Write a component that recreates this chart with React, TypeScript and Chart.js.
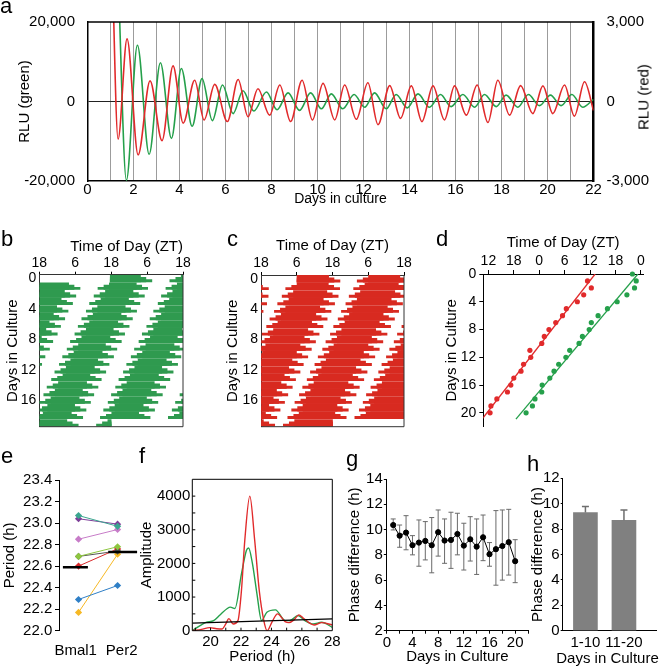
import React, { useEffect, useRef } from "react";
import { Chart, registerables } from "chart.js";

Chart.register(...registerables);

const FONT = "'Liberation Sans', Arial, Helvetica, sans-serif";
Chart.defaults.font.family = FONT;
Chart.defaults.font.size = 15;
Chart.defaults.color = "#000";

const GREEN = "#25a04b";
const RED = "#e12a2b";
const ACT_GREEN = "#2f9a4f";
const ACT_RED = "#d82a20";

// ---------------- panel a : bioluminescence traces ----------------
const aGreenDays = [1.33, 1.69, 2.17, 2.68, 3.17, 3.65, 4.08, 4.55, 4.98, 5.43, 5.87, 6.33, 6.76, 7.23, 7.78, 8.24, 8.72, 9.22, 9.7, 10.17, 10.6, 11.1, 11.59, 12.05, 12.48, 12.99, 13.42, 13.9, 14.37, 14.87, 15.35, 15.81, 16.32, 16.83, 17.26, 17.77, 18.2, 18.71, 19.17, 19.65, 20.13, 20.59, 21.06, 21.53, 22];
const aGreenRLU = [32000, -19800, 14160, -13280, 9760, -9280, 8320, -6240, 5760, -4800, 4160, -3040, 2720, -2400, 2400, -2080, 2160, -2240, 2160, -1840, 1920, -1840, 1760, -1440, 2160, -1840, 1760, -1600, 1920, -1440, 1760, -1280, 1760, -1440, 1760, -1280, 1600, -1440, 1760, -1040, 1600, -1040, 1760, -1440, 560];
const aRedDays = [1.05, 1.33, 1.72, 2.2, 2.72, 3.24, 3.72, 4.16, 4.66, 5.07, 5.53, 6.08, 6.55, 6.98, 7.41, 7.92, 8.36, 8.83, 9.33, 9.78, 10.24, 10.75, 11.18, 11.69, 12.19, 12.63, 13.14, 13.61, 14.08, 14.54, 15.02, 15.52, 15.96, 16.47, 16.94, 17.41, 17.84, 18.35, 18.83, 19.36, 19.8, 20.23, 20.74, 21.17, 21.61, 22];
const aRedRLU = [6000, -1416, 2364, -2016, 780, -1476, 1344, -816, 804, -696, 648, -756, 828, -576, 480, -516, 624, -756, 804, -696, 684, -696, 624, -672, 708, -876, 600, -636, 588, -756, 588, -696, 588, -516, 624, -792, 804, -516, 600, -456, 588, -456, 624, -552, 744, -336];
const aDayTicks = [0, 1, 2, 3, 4, 5, 6, 7, 8, 9, 10, 11, 12, 13, 14, 15, 16, 17, 18, 19, 20, 21, 22];
const aGreenTicks = [-20000, 0, 20000];
const aRedTicks = [-3000, 0, 3000];

// ---------------- panels b, c : double-plotted actograms (hours since first ZT18) ----------------
const actRowCount = 20;
// staircase tiers of the bar edges: [extra hours each side, fraction of row height]
const actTiers = [[0, 1], [1.8, 0.66], [3.8, 0.33]];
const actHourTicks = [0, 12, 24, 36, 48];
const actHourLabels = ["18", "6", "18", "6", "18"];
const actDayTicks = [0, 4, 8, 12, 16];
const bGreenOnStart = [23.7, 47.4, 70.1, 92.6, 115.5, 138.0, 160.8, 183.7, 206.2, 229.1, 251.6, 274.5, 297.0, 319.9, 342.4, 365.3, 387.9, 410.8, 433.3, 456.2, 478.9];
const bGreenOnEnd = [33.8, 56.4, 79.3, 101.8, 124.7, 147.3, 170.2, 192.7, 215.6, 238.1, 261.0, 283.5, 306.4, 328.9, 351.8, 374.4, 397.3, 419.8, 442.7, 465.2, 480.0];
const cRedOnStart = [12.1, 36.1, 58.9, 81.4, 104.3, 126.8, 149.7, 172.2, 195.1, 217.6, 240.5, 263.0, 285.9, 308.4, 331.3, 353.8, 376.7, 399.2, 422.1, 444.8, 467.3];
const cRedOnEnd = [22.7, 46.6, 70.1, 92.9, 115.7, 138.4, 161.0, 183.7, 206.5, 229.1, 251.9, 274.4, 297.3, 319.8, 342.7, 365.2, 388.1, 410.6, 433.5, 456.8, 480.0];
const bRecording = [23.7, 480];
const cRecording = [12.1, 480];

// ---------------- panel d : peak phases ----------------
const dRedDays = [1, 2, 3, 4, 5, 6, 7, 8, 9, 10, 11, 12, 13, 14, 15, 16, 17, 18, 19, 20];
const dRedZT = [35.4, 36.3, 34.5, 33.0, 30.4, 29.5, 27.9, 26.3, 25.2, 24.6, 21.8, 22.0, 20.3, 19.7, 18.0, 17.3, 16.5, 14.0, 12.6, 12.4];
const dGreenDays = [0, 1, 2, 3, 4, 5, 6, 7, 8, 9, 10, 11, 12, 13, 14, 15, 16, 17, 18, 19, 20];
const dGreenZT = [46.0, 46.9, 46.5, 44.7, 42.4, 40.1, 37.9, 36.3, 35.8, 34.2, 33.4, 31.2, 30.3, 28.6, 27.5, 26.5, 24.7, 24.6, 23.0, 22.4, 20.9];
const dRedFitDays = [0, 20.9];
const dRedFitZT = [37.2, 10.5];
const dGreenFitDays = [0, 20.9];
const dGreenFitZT = [47.3, 18.5];
const dZTTicks = [12, 18, 24, 30, 36, 42, 48];
const dDayTicks = [0, 4, 8, 12, 16, 20];

// ---------------- panel e : periods ----------------
const eGenes = ["Bmal1", "Per2"];
const eBmal1 = [23.07, 23.04, 22.85, 22.69, 22.69, 22.6, 22.29, 22.17];
const ePer2 = [22.97, 22.99, 22.94, 22.78, 22.74, 22.76, 22.42, 22.71];
const eColors = ["#3ba58f", "#7d3f98", "#c77cc8", "#8dc63f", "#555555", "#d8282a", "#2f7fc6", "#f6b824"];
const eMeans = [22.59, 22.73];
const eMeanBarFrom = [0.6, 1.76];
const eMeanBarTo = [1.24, 2.5];
const ePeriodTicks = [22.0, 22.2, 22.4, 22.6, 22.8, 23.0, 23.2, 23.4];

// ---------------- panel f : periodogram ----------------
const fRedPeriod = [18.8, 19.4, 19.94, 20.4, 20.75, 21.0, 21.2, 21.49, 21.8, 22.03, 22.25, 22.58, 22.9, 23.2, 23.5, 23.72, 24.05, 24.4, 24.9, 25.15, 25.5, 25.8, 26.1, 26.8, 27.3, 28];
const fRedAmp = [0, 40, 90, 60, 50, 200, 358, 200, 300, 1194, 2687, 4000, 2687, 1194, 299, 0, 270, 500, 270, 239, 330, 470, 370, 170, 240, 170];
const fGreenPeriod = [18.8, 19.7, 20.2, 20.6, 21.1, 21.3, 21.6, 22.03, 22.36, 22.5, 22.75, 23.05, 23.35, 23.7, 24.26, 24.9, 25.2, 25.75, 26.2, 26.75, 27.3, 28];
const fGreenAmp = [0, 250, 300, 460, 660, 700, 660, 1690, 2390, 2460, 2000, 1090, 300, 550, 620, 300, 300, 450, 300, 200, 250, 100];
const fSigPeriod = [18.8, 28];
const fSigAmp = [225, 350];
const fPeriodTicks = [20, 22, 24, 26, 28];
const fAmpTicks = [0, 1000, 2000, 3000, 4000];
const fMinorPeriod = [19, 20, 21, 22, 23, 24, 25, 26, 27];
const fMinorAmp = [500, 1000, 1500, 2000, 2500, 3000, 3500, 4000];

// ---------------- panel g : phase difference per day ----------------
const gDays = [1, 2, 3, 4, 5, 6, 7, 8, 9, 10, 11, 12, 13, 14, 15, 16, 17, 18, 19, 20];
const gMean = [10.36, 9.52, 9.76, 8.76, 8.97, 9.1, 8.76, 9.79, 9.13, 9.18, 9.65, 8.73, 9.23, 8.65, 9.39, 8.05, 8.45, 8.7, 9.0, 7.5];
const gHi = [10.84, 10.36, 11.1, 9.52, 10.76, 10.63, 10.95, 11.55, 10.84, 11.37, 11.29, 10.5, 11.02, 10.84, 11.15, 8.97, 11.5, 11.55, 11.6, 9.2];
const gLo = [9.97, 8.6, 8.4, 8.0, 7.1, 7.6, 6.58, 7.9, 7.33, 6.93, 8.0, 6.8, 7.51, 6.45, 7.54, 7.1, 5.6, 6.0, 6.4, 5.8];
const gDayTicks = [0, 2, 4, 6, 8, 10, 12, 14, 16, 18, 20, 22];
const gPhaseTicks = [2, 4, 6, 8, 10, 12, 14];

// ---------------- panel h : phase difference means ----------------
const hGroups = ["1-10", "11-20"];
const hMean = [9.3, 8.7];
const hErrTop = [9.77, 9.5];
const hPhaseTicks = [0, 2, 4, 6, 8, 10, 12];

// ---------------- helpers ----------------
const fitW = (w: number) => (s: any) => { s.width = w; };
const fitH = (h: number) => (s: any) => { s.height = h; };
const setTicks = (vals: number[]) => (s: any) => { s.ticks = vals.map((v) => ({ value: v })); };
const noPlugins = { legend: { display: false }, tooltip: { enabled: false } };

const framePlugin = {
  id: "frame",
  afterDatasetsDraw(chart: any, _a: any, o: any) {
    if (!o) return;
    const { left, right, top, bottom } = chart.chartArea;
    const ctx = chart.ctx;
    ctx.save();
    ctx.strokeStyle = o.color || "#000";
    const seg = (w: number, x1: number, y1: number, x2: number, y2: number) => {
      if (!w) return;
      ctx.lineWidth = w;
      ctx.beginPath();
      ctx.moveTo(x1, y1);
      ctx.lineTo(x2, y2);
      ctx.stroke();
    };
    seg(o.top, left, top, right, top);
    seg(o.right, right, top, right, bottom);
    seg(o.bottom, left, bottom, right, bottom);
    seg(o.left, left, top, left, bottom);
    ctx.restore();
  },
};

function drawErr(chart: any, o: any) {
  const ds = chart.data.datasets[0];
  if (!ds || !ds.errHi) return;
  const meta = chart.getDatasetMeta(0);
  const ys = chart.scales.y;
  const ctx = chart.ctx;
  ctx.save();
  ctx.strokeStyle = o.color || "#666";
  ctx.lineWidth = o.width || 1;
  meta.data.forEach((el: any, i: number) => {
    const x = el.x;
    const top = ys.getPixelForValue(ds.errHi[i]);
    const bot = ds.errLo ? ys.getPixelForValue(ds.errLo[i]) : el.y;
    const c = (o.cap || 5) / 2;
    ctx.beginPath();
    ctx.moveTo(x, bot);
    ctx.lineTo(x, top);
    ctx.moveTo(x - c, top);
    ctx.lineTo(x + c, top);
    if (ds.errLo) {
      ctx.moveTo(x - c, bot);
      ctx.lineTo(x + c, bot);
    }
    ctx.stroke();
  });
  ctx.restore();
}

const errPlugin = {
  id: "errbars",
  beforeDatasetsDraw(chart: any, _a: any, o: any) {
    if (o && o.under) drawErr(chart, o);
  },
  afterDatasetsDraw(chart: any, _a: any, o: any) {
    if (o && !o.under) drawErr(chart, o);
  },
};

const innerTicksPlugin = {
  id: "innerTicks",
  afterDraw(chart: any) {
    const { ctx, chartArea: ca, scales } = chart;
    ctx.save();
    ctx.strokeStyle = "#000";
    ctx.lineWidth = 1;
    ctx.beginPath();
    fMinorPeriod.forEach((v) => {
      const x = scales.x.getPixelForValue(v);
      ctx.moveTo(x, ca.bottom);
      ctx.lineTo(x, ca.bottom - 3);
    });
    fMinorAmp.forEach((v) => {
      const y = scales.y.getPixelForValue(v);
      ctx.moveTo(ca.left, y);
      ctx.lineTo(ca.left + 3, y);
    });
    ctx.stroke();
    ctx.restore();
  },
};

// clips each "high" interval (absolute hours) into the double-plotted rows
function buildActogram(starts: number[], ends: number[], rec: number[], widen: number, yShift: number) {
  const rows: any[] = [];
  for (let r = 0; r < actRowCount; r++) {
    const lo = 24 * r;
    const hi = lo + 48;
    starts.forEach((s, i) => {
      const a = Math.max(s - widen, lo, rec[0]);
      const b = Math.min(ends[i] + widen, hi, rec[1]);
      if (b > a) rows.push({ x: [a - lo, b - lo], y: r + yShift });
    });
  }
  return rows;
}

function actDatasets(starts: number[], ends: number[], rec: number[], color: string) {
  const rowPx = 6.7;
  const rowUnits = 0.88;
  return actTiers.map(([widen, frac]) => ({
    data: buildActogram(starts, ends, rec, widen, (rowUnits * (1 - frac)) / 2),
    backgroundColor: color,
    borderWidth: 0,
    borderSkipped: false,
    barThickness: rowPx * frac,
    grouped: false,
  }));
}

const pts = (xs: number[], ys: number[]) => xs.map((x, i) => ({ x, y: ys[i] }));
const fmt = (v: any) => Number(v).toLocaleString("en-US");

// ---------------- configs ----------------
function configA(): any {
  return {
    type: "line",
    data: {
      datasets: [
        { data: pts(aRedDays, aRedRLU), yAxisID: "y2", borderColor: RED, borderWidth: 1.6, pointRadius: 0, cubicInterpolationMode: "monotone" },
        { data: pts(aGreenDays, aGreenRLU), yAxisID: "y", borderColor: GREEN, borderWidth: 1.6, pointRadius: 0, cubicInterpolationMode: "monotone" },
      ],
    },
    options: {
      responsive: false,
      animation: false,
      layout: { padding: { top: 14.3, left: 0, right: 0, bottom: 0 } },
      plugins: { ...noPlugins, frame: { top: 1.5, color: "#000" } },
      scales: {
        x: {
          type: "linear", position: "bottom", min: 0, max: 22, afterBuildTicks: setTicks(aDayTicks), afterFit: fitH(34),
          ticks: { autoSkip: false, maxRotation: 0, padding: 0, callback: (v: number) => (v % 2 === 0 ? String(v) : "") },
          grid: { drawTicks: false, lineWidth: 1, color: (c: any) => { const v = c.tick ? c.tick.value : -1; return v > 0 && v < 22 ? "#9c9c9c" : "rgba(0,0,0,0)"; } },
          border: { color: "#000", width: 1.5 },
          title: { display: true, text: "Days in culture", font: { size: 14 }, padding: { top: 0, bottom: 7 } },
        },
        y: {
          position: "left", min: -20000, max: 20000, afterBuildTicks: setTicks(aGreenTicks), afterFit: fitW(87.5),
          ticks: { padding: 12.5, callback: fmt },
          grid: { drawTicks: false, color: (c: any) => (c.tick && c.tick.value === 0 ? "#222" : "rgba(0,0,0,0)") },
          border: { color: "#000", width: 1.5 },
          title: { display: true, text: "RLU (green)", padding: { top: 16, bottom: 0 } },
        },
        y2: {
          position: "right", min: -3000, max: 3000, afterBuildTicks: setTicks(aRedTicks), afterFit: fitW(66.5),
          ticks: { padding: 13, callback: fmt },
          grid: { display: false, drawTicks: false },
          border: { color: "#000", width: 2.5 },
        },
      },
    },
    plugins: [framePlugin],
  };
}

function configAct(datasets: any[], yWidth: number, xHeight: number, padRight: number, xTitlePad: number, yTitlePad: number, align: string): any {
  return {
    type: "bar",
    data: { datasets },
    options: {
      indexAxis: "y",
      responsive: false,
      animation: false,
      layout: { padding: { top: 0, left: 0, right: padRight, bottom: 13.3 } },
      plugins: { ...noPlugins, frame: { right: 1, bottom: 1, color: "#333" } },
      scales: {
        x: {
          type: "linear", position: "top", min: 0, max: 48, offset: false, afterBuildTicks: setTicks(actHourTicks), afterFit: fitH(xHeight),
          ticks: { autoSkip: false, maxRotation: 0, padding: 0, font: { size: 14 }, callback: (v: number) => actHourLabels[actHourTicks.indexOf(v)] },
          grid: { offset: false, drawOnChartArea: false, tickLength: 3, color: "#000" },
          border: { color: "#333", width: 1 },
          title: { display: true, text: "Time of Day (ZT)", align, padding: { top: xTitlePad, bottom: 0 } },
        },
        y: {
          type: "linear", reverse: true, min: -0.5, max: 19.5, offset: false, afterBuildTicks: setTicks(actDayTicks), afterFit: fitW(yWidth),
          ticks: { autoSkip: false, padding: 3, font: { size: 14 } },
          grid: { offset: false, drawOnChartArea: false, drawTicks: false },
          border: { color: "#333", width: 1 },
          title: { display: true, text: "Days in Culture", padding: { top: yTitlePad, bottom: 0 } },
        },
      },
    },
    plugins: [framePlugin],
  };
}

function configD(): any {
  return {
    type: "scatter",
    data: {
      datasets: [
        { data: pts(dRedZT, dRedDays), pointRadius: 2.6, backgroundColor: RED, borderWidth: 0, clip: 6 },
        { data: pts(dGreenZT, dGreenDays), pointRadius: 2.6, backgroundColor: GREEN, borderWidth: 0, clip: 6 },
        { data: pts(dRedFitZT, dRedFitDays), showLine: true, pointRadius: 0, borderColor: RED, borderWidth: 1.3 },
        { data: pts(dGreenFitZT, dGreenFitDays), showLine: true, pointRadius: 0, borderColor: GREEN, borderWidth: 1.3 },
      ],
    },
    options: {
      responsive: false,
      animation: false,
      layout: { padding: { top: 0, left: 0, right: 17, bottom: 13.3 } },
      plugins: { ...noPlugins },
      scales: {
        x: {
          type: "linear", position: "top", min: 10.8, max: 48.5, afterBuildTicks: setTicks(dZTTicks), afterFit: fitH(49),
          ticks: { autoSkip: false, maxRotation: 0, padding: 0, font: { size: 14 }, callback: (v: number) => String(((v % 24) + 24) % 24) },
          grid: { drawOnChartArea: false, tickLength: 4, color: "#000" },
          border: { color: "#000", width: 1 },
          title: { display: true, text: "Time of Day (ZT)", padding: { top: 9.3, bottom: 0 } },
        },
        y: {
          type: "linear", reverse: true, min: 0, max: 22, afterBuildTicks: setTicks(dDayTicks), afterFit: fitW(63.3),
          ticks: { autoSkip: false, padding: 3, font: { size: 14 } },
          grid: { drawOnChartArea: false, tickLength: 4, color: "#000" },
          border: { color: "#000", width: 1 },
          title: { display: true, text: "Days in Culture", padding: { top: 22.7, bottom: 0 } },
        },
      },
    },
  };
}

function configE(): any {
  const sampleSets = eColors.map((c, i) => ({
    data: [{ x: 1, y: eBmal1[i] }, { x: 2, y: ePer2[i] }],
    borderColor: c, backgroundColor: c, borderWidth: 1, pointStyle: "rectRot", pointRadius: 3.6, pointBorderWidth: 0,
  }));
  const meanSets = eMeans.map((m, i) => ({
    data: [{ x: eMeanBarFrom[i], y: m }, { x: eMeanBarTo[i], y: m }],
    borderColor: "#000", borderWidth: 2.5, pointRadius: 0,
  }));
  return {
    type: "line",
    data: { datasets: [...meanSets, ...sampleSets] },
    options: {
      responsive: false,
      animation: false,
      layout: { padding: { top: 25, left: 0, right: 24, bottom: 0 } },
      plugins: { ...noPlugins },
      scales: {
        x: {
          type: "linear", display: false, min: 0.5, max: 2.6,
        },
        xLabels: {
          type: "linear", position: "bottom", min: 0.637, max: 2.42, afterBuildTicks: setTicks([1, 2]), afterFit: fitH(35.3),
          ticks: { autoSkip: false, maxRotation: 0, padding: 11, callback: (v: number) => eGenes[v - 1] },
          grid: { display: false, drawTicks: false },
          border: { display: false },
        },
        y: {
          min: 22, max: 23.4, afterBuildTicks: setTicks(ePeriodTicks), afterFit: fitW(59),
          ticks: { autoSkip: false, padding: 2.7, callback: (v: number) => Number(v).toFixed(1) },
          grid: { drawOnChartArea: false, tickLength: 4, color: "#000" },
          border: { color: "#000", width: 1 },
          title: { display: true, text: "Period (h)", padding: { top: 1, bottom: 0 } },
        },
      },
    },
  };
}

function configF(): any {
  return {
    type: "line",
    data: {
      datasets: [
        { data: pts(fSigPeriod, fSigAmp), borderColor: "#000", borderWidth: 1.3, pointRadius: 0 },
        { data: pts(fRedPeriod, fRedAmp), borderColor: RED, borderWidth: 1.4, pointRadius: 0, cubicInterpolationMode: "monotone" },
        { data: pts(fGreenPeriod, fGreenAmp), borderColor: GREEN, borderWidth: 1.4, pointRadius: 0, cubicInterpolationMode: "monotone" },
      ],
    },
    options: {
      responsive: false,
      animation: false,
      layout: { padding: { top: 24.3, left: 0, right: 12.7, bottom: 0 } },
      plugins: { ...noPlugins, frame: { top: 1, right: 1, bottom: 1, left: 1, color: "#000" } },
      scales: {
        x: {
          type: "linear", min: 18.8, max: 28, afterBuildTicks: setTicks(fPeriodTicks), afterFit: fitH(35.3),
          ticks: { autoSkip: false, maxRotation: 0, padding: 2 },
          grid: { display: false, drawTicks: false },
          border: { display: false },
          title: { display: true, text: "Period (h)", padding: { top: 0, bottom: 0 } },
        },
        y: {
          min: 0, max: 4500, afterBuildTicks: setTicks(fAmpTicks), afterFit: fitW(57.3),
          ticks: { autoSkip: false, padding: 2, callback: (v: number) => String(v) },
          grid: { display: false, drawTicks: false },
          border: { display: false },
          title: { display: true, text: "Amplitude", padding: { top: 2.7, bottom: 0 } },
        },
      },
    },
    plugins: [framePlugin, innerTicksPlugin],
  };
}

function configG(): any {
  return {
    type: "line",
    data: {
      datasets: [
        { data: pts(gDays, gMean), errHi: gHi, errLo: gLo, borderColor: "#000", backgroundColor: "#000", borderWidth: 1, pointRadius: 2.6 },
      ],
    },
    options: {
      responsive: false,
      animation: false,
      layout: { padding: { top: 24, left: 0, right: 7, bottom: 0 } },
      plugins: { ...noPlugins, errbars: { under: true, color: "#6a6a6a", width: 1, cap: 5 } },
      scales: {
        x: {
          type: "linear", min: 0, max: 22, afterBuildTicks: setTicks(gDayTicks), afterFit: fitH(35.3),
          ticks: { autoSkip: false, maxRotation: 0, padding: 0, callback: (v: number) => (v % 4 === 0 && v <= 20 ? String(v) : "") },
          grid: { drawOnChartArea: false, tickLength: 3, color: "#000" },
          border: { color: "#000", width: 1 },
          title: { display: true, text: "Days in Culture", padding: { top: 0, bottom: 0 } },
        },
        y: {
          min: 2, max: 14, afterBuildTicks: setTicks(gPhaseTicks), afterFit: fitW(66.8),
          ticks: { autoSkip: false, padding: 1 },
          grid: { drawOnChartArea: false, tickLength: 3, color: "#000" },
          border: { color: "#000", width: 1 },
          title: { display: true, text: "Phase difference (h)", padding: { top: 26, bottom: 0 } },
        },
      },
    },
    plugins: [errPlugin],
  };
}

function configH(): any {
  return {
    type: "bar",
    data: {
      datasets: [
        { data: hMean.map((m, i) => ({ x: i + 1, y: m })), errHi: hErrTop, backgroundColor: "#808080", borderWidth: 0, barThickness: 24 },
      ],
    },
    options: {
      responsive: false,
      animation: false,
      layout: { padding: { top: 23.3, left: 0, right: 3.3, bottom: 0 } },
      plugins: { ...noPlugins, errbars: { under: false, color: "#6e6e6e", width: 1.5, cap: 7 } },
      scales: {
        x: {
          type: "linear", min: 0.41, max: 2.85, offset: false, afterBuildTicks: setTicks([1, 2]), afterFit: fitH(35.3),
          ticks: { autoSkip: false, maxRotation: 0, padding: 3.3, callback: (v: number) => hGroups[v - 1] },
          grid: { offset: false, display: false, drawTicks: false },
          border: { color: "#000", width: 1 },
        },
        y: {
          min: 0, max: 12, afterBuildTicks: setTicks(hPhaseTicks), afterFit: fitW(42.7),
          ticks: { autoSkip: false, padding: 1 },
          grid: { drawOnChartArea: false, tickLength: 2, color: "#000" },
          border: { color: "#000", width: 1 },
          title: { display: true, text: "Phase difference (h)", padding: { top: 9.3, bottom: 0 } },
        },
      },
    },
    plugins: [errPlugin],
  };
}

function ChartBox(props: { left: number; top: number; width: number; height: number; make: () => any }) {
  const ref = useRef<HTMLCanvasElement | null>(null);
  useEffect(() => {
    const chart = new Chart(ref.current as HTMLCanvasElement, props.make());
    return () => chart.destroy();
  }, []);
  const { left, top, width, height } = props;
  return (
    <div style={{ position: "absolute", left, top, width, height }}>
      <canvas ref={ref} width={width} height={height} style={{ width, height, display: "block" }} />
    </div>
  );
}

const letterStyle = (left: number, top: number): any => ({
  position: "absolute", left, top, fontFamily: FONT, fontSize: 22, lineHeight: "22px", color: "#000",
});

export default function App() {
  const bSets = actDatasets(bGreenOnStart, bGreenOnEnd, bRecording, ACT_GREEN);
  const cSets = actDatasets(cRedOnStart, cRedOnEnd, cRecording, ACT_RED);
  return (
    <div style={{ position: "absolute", left: 0, top: 0, width: 660, height: 666, background: "#fff", overflow: "hidden" }}>
      <ChartBox left={0} top={0} width={660} height={215} make={configA} />
      <ChartBox left={0} top={225} width={200} height={215} make={() => configAct(bSets, 39.3, 49.7, 17, 12.7, 3.7, "end")} />
      <ChartBox left={220} top={225} width={200} height={215} make={() => configAct(cSets, 41, 50, 16, 12, 4.3, "center")} />
      <ChartBox left={420} top={225} width={240} height={215} make={configD} />
      <ChartBox left={0} top={455} width={165} height={211} make={configE} />
      <ChartBox left={135} top={455} width={210} height={211} make={configF} />
      <ChartBox left={320} top={455} width={215} height={211} make={configG} />
      <ChartBox left={520} top={455} width={140} height={211} make={configH} />
      <div style={{ position: "absolute", left: 642.5, top: 96.7, transform: "translate(-50%, -50%) rotate(-90deg)", fontFamily: FONT, fontSize: 15, whiteSpace: "nowrap", color: "#000" }}>RLU (red)</div>
      <div style={{ position: "absolute", left: 607.5, top: 657, transform: "translate(-50%, -50%)", fontFamily: FONT, fontSize: 15, whiteSpace: "nowrap", color: "#000" }}>Days in Culture</div>
      <div style={letterStyle(0, -5.3)}>a</div>
      <div style={letterStyle(1, 228.1)}>b</div>
      <div style={letterStyle(227, 228.1)}>c</div>
      <div style={letterStyle(436, 228.1)}>d</div>
      <div style={letterStyle(1, 444.7)}>e</div>
      <div style={letterStyle(139, 444.7)}>f</div>
      <div style={letterStyle(346, 447.9)}>g</div>
      <div style={letterStyle(527, 453.1)}>h</div>
    </div>
  );
}
